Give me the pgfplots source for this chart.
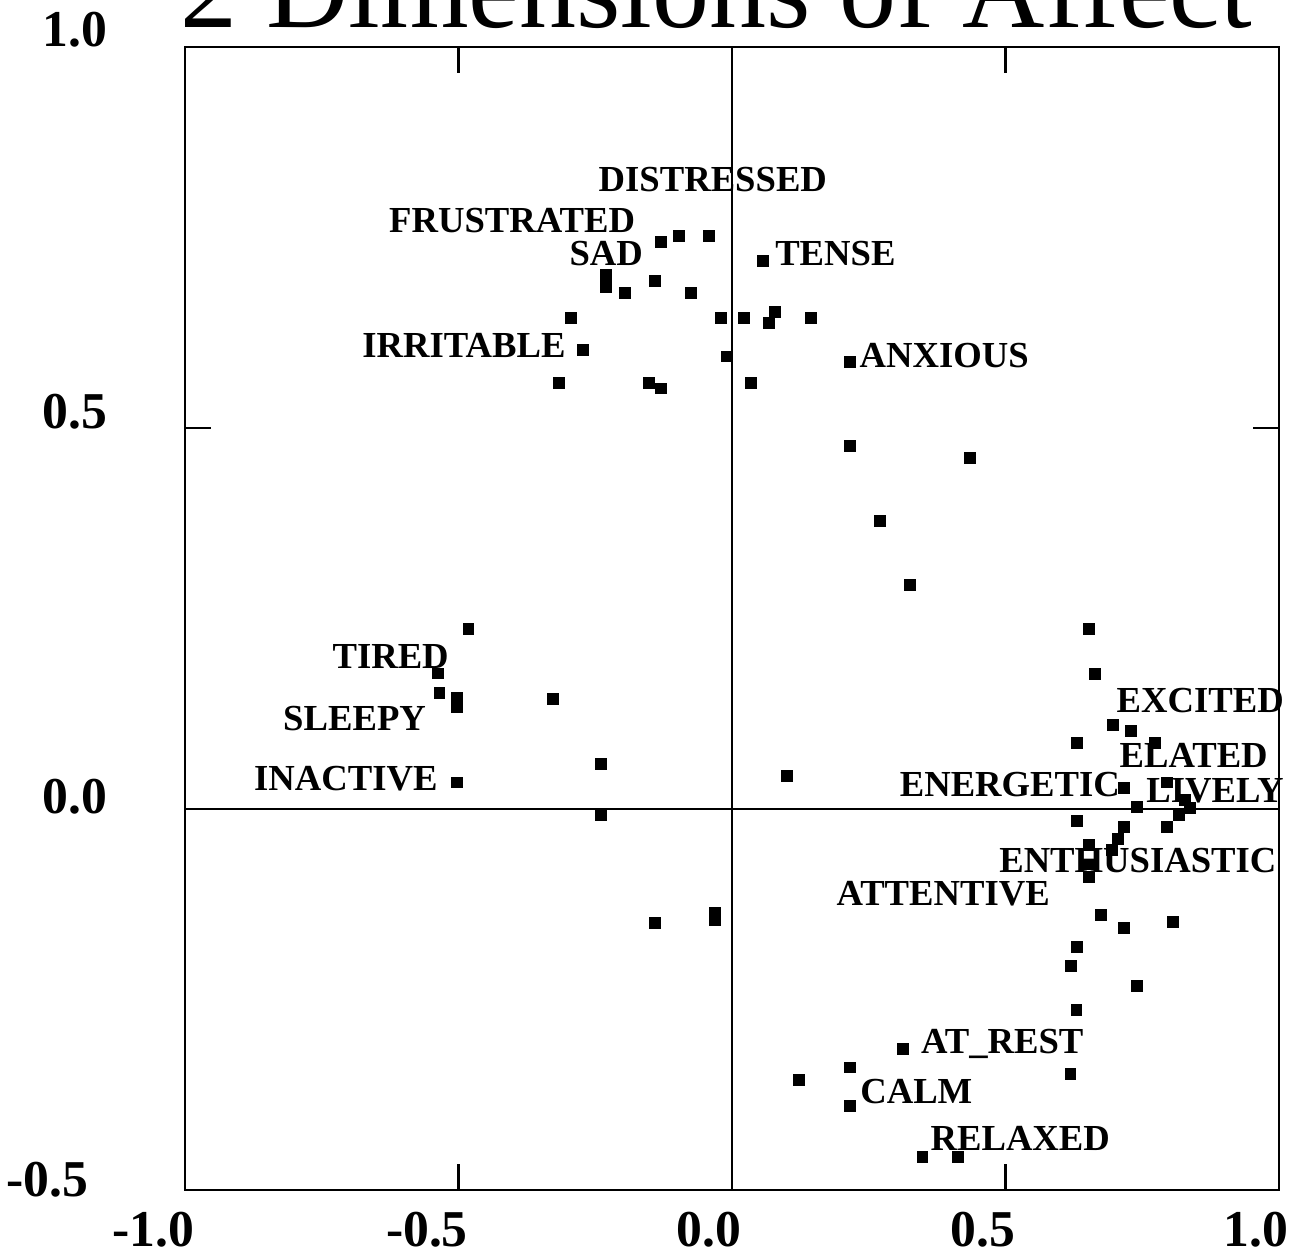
\documentclass[border=0pt]{standalone}
\usepackage{fontspec}
\setmainfont{Liberation Serif}
\usepackage{pgfplots}
\pgfplotsset{compat=1.18}
\begin{document}
\begin{tikzpicture}
\begin{axis}[
  scale only axis, width=328.2pt, height=342.9pt,
  xmin=-1, xmax=1, ymin=-0.5, ymax=1,
  axis line style={line width=0.8pt},
  tick align=inside, major tick length=7.8pt,
  tick style={line width=0.7pt, black},
  xtick={-1,-0.5,0,0.5,1}, ytick={-0.5,0,0.5,1},
  xticklabels={-1.0,-0.5,0.0,0.5,1.0},
  yticklabels={{\mbox{\raisebox{-1.8pt}{-0.5}\kern5.7pt}},{\raisebox{-1.2pt}{0.0}},0.5,1.0},
  ticklabel style={font=\bfseries\fontsize{15.5}{18}\selectfont, inner sep=0pt},
  xticklabel style={anchor=base east, xshift=3pt, yshift=-16.8pt},
  yticklabel style={anchor=base east, xshift=-23.1pt},
  clip=false,
]
\draw[line width=0.6pt] (axis cs:0,-0.5) -- (axis cs:0,1);
\draw[line width=0.6pt] (axis cs:-1,0) -- (axis cs:1,0);
\addplot[only marks, mark=square*, mark size=1.55pt, black] coordinates {
(-0.130,0.744) (-0.097,0.752) (-0.042,0.752) (0.057,0.719) (-0.230,0.701)
(-0.230,0.685) (-0.196,0.677) (-0.141,0.693) (-0.075,0.677) (-0.294,0.644)
(-0.020,0.644) (0.022,0.644) (0.079,0.652) (0.068,0.638) (0.144,0.644)
(-0.272,0.602) (-0.009,0.594) (0.216,0.587) (-0.316,0.559) (-0.152,0.559)
(-0.130,0.552) (0.035,0.559)
(0.216,0.476) (0.435,0.461) (0.271,0.378) (0.325,0.294)
(-0.482,0.236) (-0.538,0.178) (-0.535,0.152) (-0.503,0.146) (-0.503,0.134)
(-0.327,0.144) (-0.239,0.059) (-0.503,0.035) (0.100,0.043) (-0.239,-0.008)
(-0.141,-0.150) (-0.031,-0.136) (-0.031,-0.146)
(0.653,0.236) (0.664,0.177) (0.697,0.110) (0.729,0.102) (0.631,0.087)
(0.773,0.087) (0.717,0.028) (0.795,0.035) (0.740,0.003) (0.828,0.012)
(0.837,0.001) (0.817,-0.008) (0.795,-0.024) (0.717,-0.024) (0.631,-0.016)
(0.706,-0.039) (0.653,-0.047) (0.695,-0.054) (0.653,-0.073) (0.653,-0.089)
(0.675,-0.139) (0.717,-0.156) (0.806,-0.148) (0.631,-0.181) (0.620,-0.206)
(0.740,-0.232)
(0.630,-0.264) (0.313,-0.315) (0.216,-0.339) (0.122,-0.356) (0.619,-0.348)
(0.216,-0.390) (0.348,-0.457) (0.413,-0.457)
};
\begin{scope}[every node/.style={anchor=base, inner sep=0pt, font=\bfseries\fontsize{11}{13}\selectfont}]
\node at (axis cs:-0.035,0.810) {DISTRESSED};
\node at (axis cs:-0.402,0.757) {FRUSTRATED};
\node at (axis cs:-0.230,0.713) {SAD};
\node at (axis cs:0.189,0.713) {TENSE};
\node at (axis cs:-0.490,0.592) {IRRITABLE};
\node at (axis cs:0.388,0.579) {ANXIOUS};
\node at (axis cs:-0.624,0.185) {TIRED};
\node at (axis cs:-0.690,0.103) {SLEEPY};
\node at (axis cs:-0.706,0.024) {INACTIVE};
\node at (axis cs:0.856,0.126) {EXCITED};
\node at (axis cs:0.844,0.054) {ELATED};
\node at (axis cs:0.508,0.016) {ENERGETIC};
\node at (axis cs:0.883,0.008) {LIVELY};
\node at (axis cs:0.742,-0.083) {ENTHUSIASTIC};
\node at (axis cs:0.386,-0.126) {ATTENTIVE};
\node at (axis cs:0.494,-0.3215) {AT\_REST};
\node at (axis cs:0.337,-0.386) {CALM};
\node at (axis cs:0.527,-0.4475) {RELAXED};
\end{scope}
\node[anchor=base west, inner sep=0pt, font=\fontsize{34.2}{40}\selectfont] at (axis cs:-1.009,1.026) {2 Dimensions of Affect};
\coordinate (bl) at (axis cs:-1.3382,-0.58268);
\coordinate (tr) at (axis cs:1.02377,1.06168);
\end{axis}
\pgfresetboundingbox
\useasboundingbox (bl) rectangle (tr);
\end{tikzpicture}
\end{document}
